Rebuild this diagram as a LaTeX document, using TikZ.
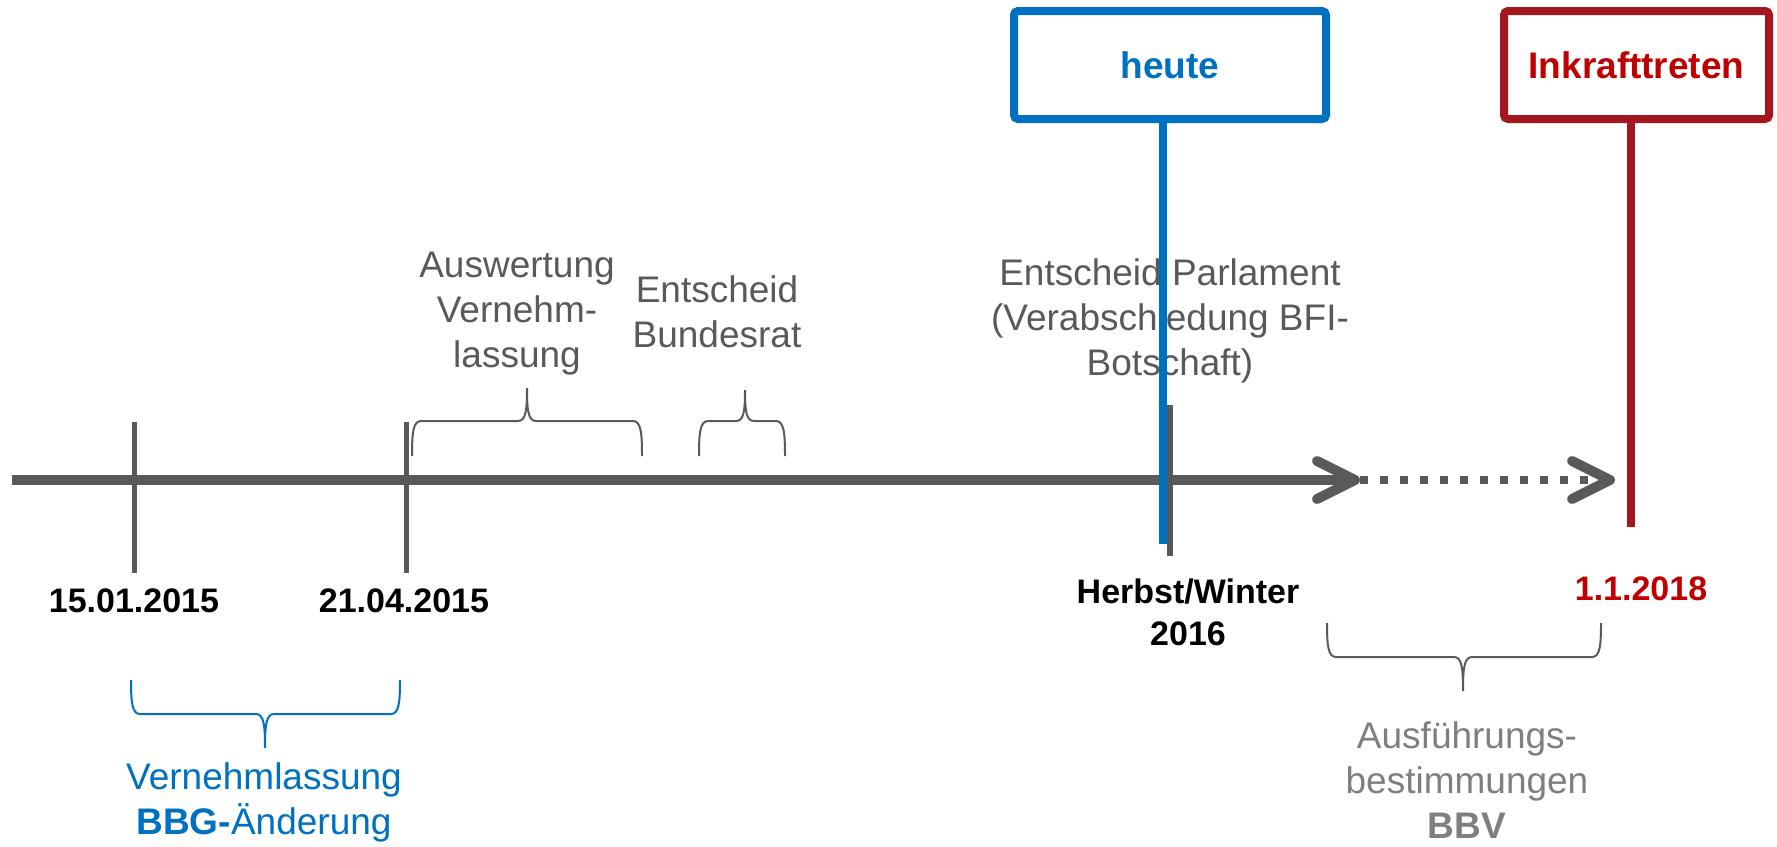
\documentclass[tikz,border=0pt]{standalone}
\usepackage{fontspec}
\setmainfont{Liberation Sans}
\usetikzlibrary{arrows.meta}
\definecolor{tlgray}{HTML}{595959}
\definecolor{tllight}{HTML}{7F7F7F}
\definecolor{tlblue}{HTML}{0070C0}
\definecolor{tlred}{HTML}{C00000}
\definecolor{boxred}{HTML}{A3171F}
% style, x1, x2, xm, yend, yh, ytip
\newcommand{\tlbrace}[7]{%
  \draw[#1] (#2,#5) .. controls (#2,{#6+0.35*(#5-#6)}) and (#2+1,#6) .. (#2+9,#6)
    -- (#4-9,#6) .. controls (#4-1,#6) and (#4,{#6+0.35*(#7-#6)}) .. (#4,#7)
    .. controls (#4,{#6+0.35*(#7-#6)}) and (#4+1,#6) .. (#4+9,#6)
    -- (#3-9,#6) .. controls (#3-1,#6) and (#3,{#6+0.35*(#5-#6)}) .. (#3,#5);%
}
\tikzset{
  lbl/.style={font=\fontsize{18.5}{22.5}\selectfont, text=tlgray, align=center, inner sep=0pt, anchor=base},
  datelbl/.style={font=\bfseries\fontsize{17}{21}\selectfont, align=center, inner sep=0pt, anchor=base},
  mainline/.style={draw=tlgray, line width=5pt},
  tickline/.style={draw=tlgray, line width=2.5pt},
  dotline/.style={draw=tlgray, line width=4pt, dash pattern=on 4pt off 6pt},
  barb/.style={-{Straight Barb[length=19pt,width=19pt,line width=5pt,round]}},
  brc/.style={draw=tlgray, line width=1pt},
  topbox/.style={draw, line width=4pt, rounded corners=2pt, fill=white, inner sep=0pt,
    minimum height=54pt, font=\bfseries\fontsize{18.5}{22}\selectfont},
}
\begin{document}
\begin{tikzpicture}[x=0.5pt, y=-0.5pt]
\useasboundingbox (0,0) rectangle (1777,846);

% texts (base = baseline of the last line)
\node[lbl] (aw) at (517,367) {Auswertung\\Vernehm-\\lassung};
\node[lbl] (br) at (717,347) {Entscheid\\Bundesrat};
\node[lbl] (ep) at (1170,375) {Entscheid Parlament\\(Verabschiedung BFI-\\Botschaft)};
\node[datelbl] (d1) at (134,612) {15.01.2015};
\node[datelbl] (d2) at (404,612) {21.04.2015};
\node[datelbl] (hw) at (1188,645) {Herbst/Winter\\2016};
\node[datelbl, text=tlred] (nd) at (1641,600) {1.1.2018};
\node[lbl, text=tlblue] (vl) at (264,834) {Vernehmlassung\\\textbf{BBG-}Änderung};
\node[lbl, text=tllight] (af) at (1467,838) {Ausführungs-\\bestimmungen\\\textbf{BBV}};

% braces
\tlbrace{brc}{412}{642}{527}{456}{421}{388}
\tlbrace{brc}{699}{785}{745}{456}{421}{390}
\tlbrace{brc, draw=tlblue}{131}{400}{265}{680}{714}{748}
\tlbrace{brc}{1327}{1601}{1463}{623}{657}{691}

% timeline
\coordinate (mstart) at (12,480);
\coordinate (mtip) at (1360,480);
\coordinate (dtip) at (1615,480);
\draw[mainline, barb] (mstart) -- (mtip);
\draw[dotline, barb] (mtip) -- (dtip);

% ticks
\coordinate (t1a) at (134,422); \coordinate (t1b) at (134,573);
\coordinate (t2a) at (406,422); \coordinate (t2b) at (406,573);
\coordinate (t3a) at (1170,405); \coordinate (t3b) at (1170,556);
\draw[tickline] (t1a) -- (t1b);
\draw[tickline] (t2a) -- (t2b);
\draw[tickline, line width=3pt] (t3a) -- (t3b);

% markers
\coordinate (hbot) at (1163,544);
\coordinate (rbot) at (1631,527);
\node[topbox, draw=tlblue, text=tlblue, minimum width=156pt] (heute) at (1170,65) {heute};
\node[topbox, draw=boxred, text=tlred, minimum width=132.5pt] (ink) at (1636.5,65) {Inkrafttreten};
\draw[draw=tlblue, line width=4pt] (heute.south -| hbot) -- (hbot);
\draw[draw=boxred, line width=4pt] (ink.south -| rbot) -- (rbot);
\end{tikzpicture}
\end{document}
